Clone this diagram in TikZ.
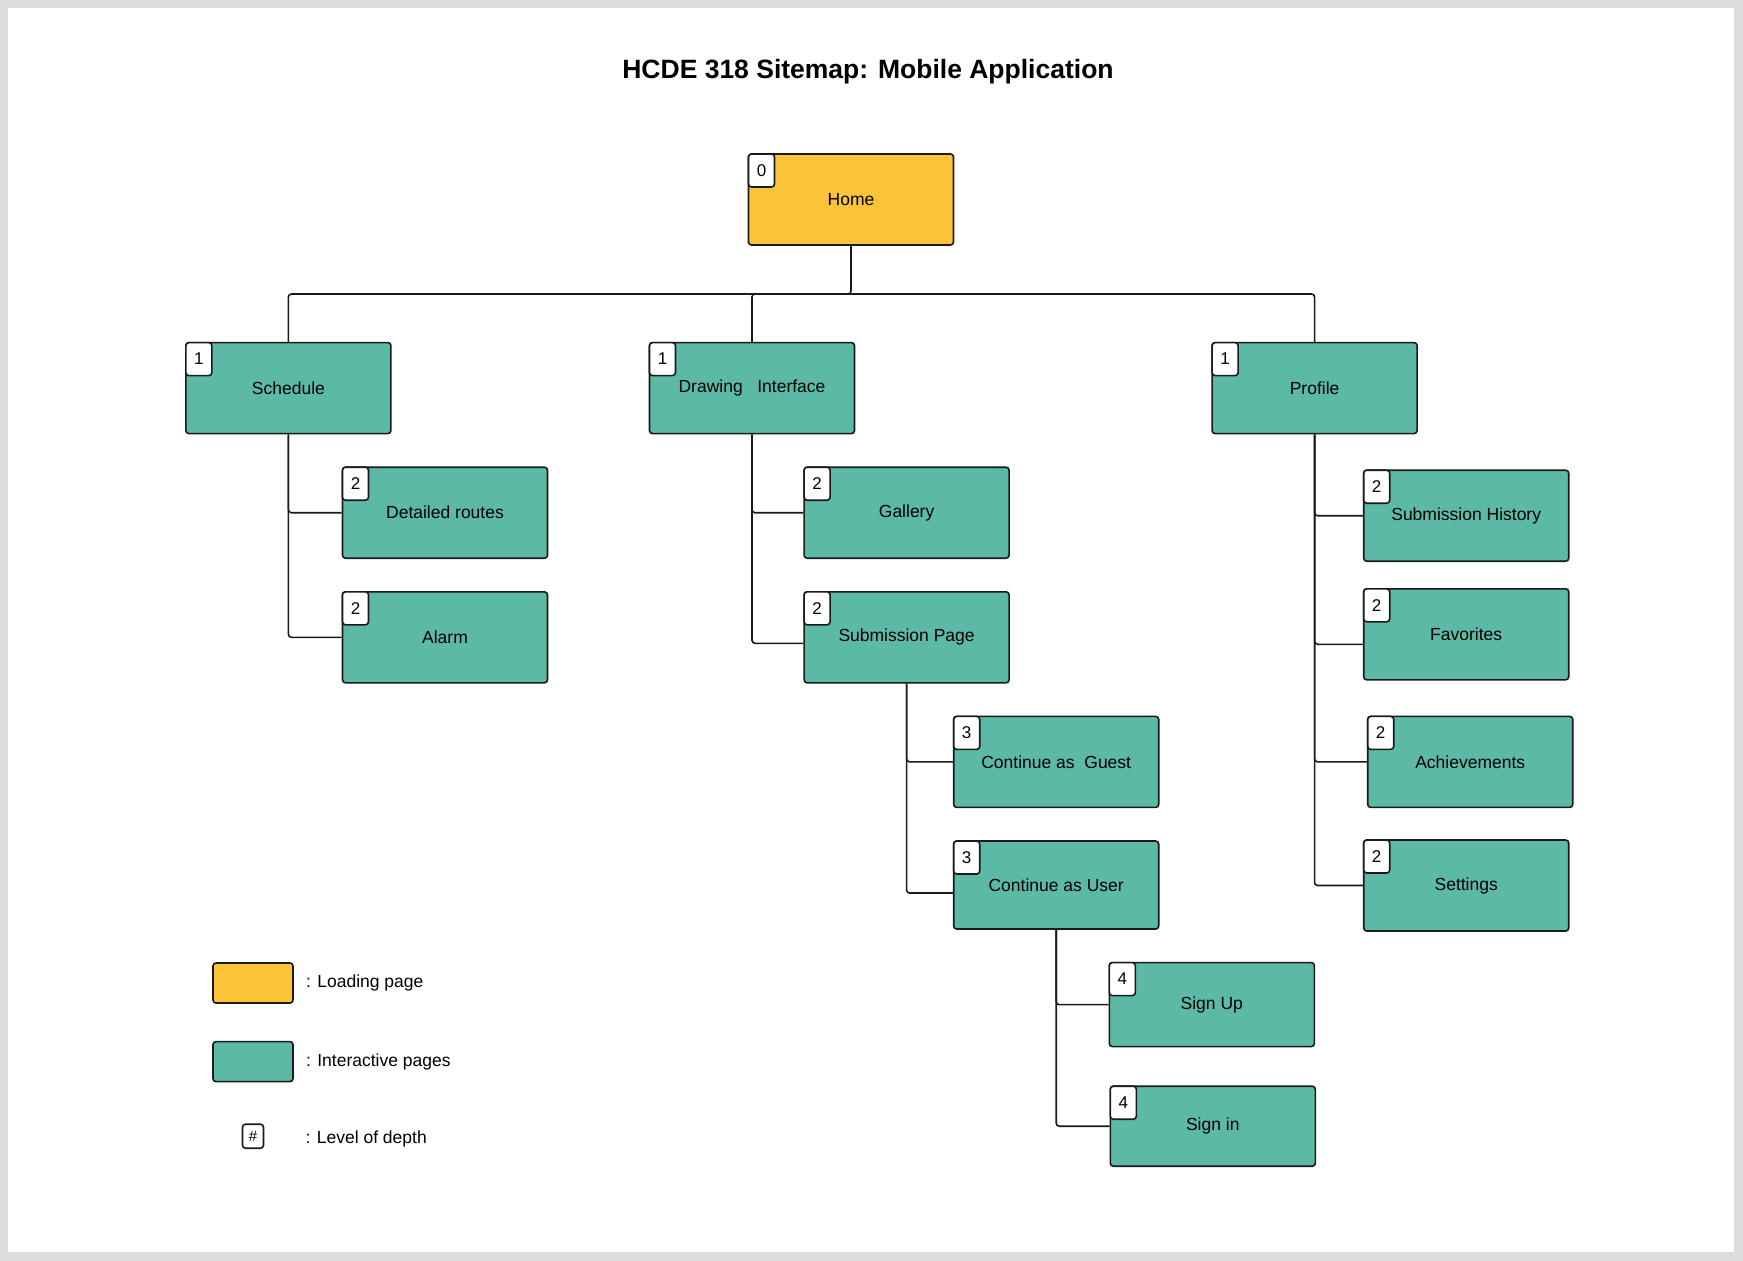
\documentclass[tikz,border=0pt]{standalone}
\usepackage{fontspec}
\setmainfont{Liberation Sans}
\usepackage{xcolor}
\usepackage{tikz}
\usetikzlibrary{positioning}

\definecolor{loadyellow}{HTML}{FBC337}
\definecolor{pageteal}{HTML}{5BB9A6}
\definecolor{framegray}{HTML}{DCDCDC}
\definecolor{inkline}{HTML}{1A1A1A}

\begin{document}
\begin{tikzpicture}[x=1pt, y=-1pt]
\tikzstyle{page} = [rectangle, draw=inkline, line width=1.6pt, rounded corners=3pt, fill=pageteal, minimum width=205pt, minimum height=91pt, text centered, font=\fontsize{17.5}{21}\selectfont]
\tikzstyle{loadpage} = [page, fill=loadyellow]
\tikzstyle{badge} = [rectangle, draw=inkline, line width=1.6pt, rounded corners=3pt, fill=white, minimum width=26pt, minimum height=33pt, inner sep=0pt, anchor=north west, font=\fontsize{17}{20}\selectfont]
\tikzstyle{swatch} = [rectangle, draw=inkline, line width=1.6pt, rounded corners=3pt, minimum width=80pt, minimum height=40pt]
\tikzstyle{legendtext} = [inner sep=0pt, font=\fontsize{17.5}{21}\selectfont]
\tikzstyle{link} = [draw=inkline, line width=1.6pt, rounded corners=3pt]

% frame
\fill [framegray] (0,0) rectangle (1743,1261);
\fill [white] (8,8) rectangle (1734,1252);
\useasboundingbox (0,0) rectangle (1743,1261);

\node (title) at (868,72) {\fontsize{26.5}{30}\selectfont\bfseries HCDE 318 Sitemap: Mobile Application};

\node (home) [loadpage] at (851,199.5) {Home};

% level 1
\node (sched) [page, below left=96pt and 356pt of home] {Schedule};
\node (drawui) [page, below=96pt of home, xshift=-99pt] {Drawing\ \ \ Interface};
\node (prof) [page, below right=96pt and 257pt of home] {Profile};

% schedule branch
\node (detail) [page, below right=32pt and -50pt of sched] {Detailed routes};
\node (alarm) [page, below=32pt of detail] {Alarm};

% drawing branch
\node (gallery) [page, below right=32pt and -52pt of drawui] {Gallery};
\node (subpage) [page, below=32pt of gallery] {Submission Page};
\node (guest) [page, below right=32pt and -57pt of subpage] {Continue as\ \ Guest};
\node (user) [page, minimum height=88pt, below=32pt of guest] {Continue as User};
\node (signup) [page, minimum height=84pt, below right=32pt and -51pt of user] {Sign Up};
\node (signin) [page, minimum height=80pt, below=38pt of signup, xshift=1pt] {Sign in};

% profile branch
\node (subhist) [page, below right=35pt and -55pt of prof] {Submission History};
\node (fav) [page, below=26pt of subhist] {Favorites};
\node (achieve) [page, below=35pt of fav, xshift=4pt] {Achievements};
\node (settings) [page, below=31pt of achieve, xshift=-4pt] {Settings};

% connectors
\coordinate (bus) at (851,294);
\draw [link] (home.south) -- (bus) -| (sched.north);
\draw [link] (bus) -| (drawui.north);
\draw [link] (bus) -| (prof.north);

\draw [link] (sched.south) |- (detail.west);
\draw [link] (sched.south) |- (alarm.west);

\draw [link] (drawui.south) |- (gallery.west);
\draw [link] (drawui.south) |- ([yshift=-6pt]subpage.west);
\draw [link] (subpage.south) |- (guest.west);
\draw [link] (subpage.south) |- ([yshift=-8pt]user.west);
\draw [link] (user.south) |- (signup.west);
\draw [link] (user.south) |- (signin.west);

\draw [link] (prof.south) |- (subhist.west);
\draw [link] (prof.south) |- ([yshift=-10pt]fav.west);
\draw [link] (prof.south) |- (achieve.west);
\draw [link] (prof.south) |- (settings.west);

% depth badges
\node (home-d) [badge] at (home.north west) {0};
\node (sched-d) [badge] at (sched.north west) {1};
\node (drawui-d) [badge] at (drawui.north west) {1};
\node (prof-d) [badge] at (prof.north west) {1};
\node (detail-d) [badge] at (detail.north west) {2};
\node (alarm-d) [badge] at (alarm.north west) {2};
\node (gallery-d) [badge] at (gallery.north west) {2};
\node (subpage-d) [badge] at (subpage.north west) {2};
\node (subhist-d) [badge] at (subhist.north west) {2};
\node (fav-d) [badge] at (fav.north west) {2};
\node (achieve-d) [badge] at (achieve.north west) {2};
\node (settings-d) [badge] at (settings.north west) {2};
\node (guest-d) [badge] at (guest.north west) {3};
\node (user-d) [badge] at (user.north west) {3};
\node (signup-d) [badge] at (signup.north west) {4};
\node (signin-d) [badge] at (signin.north west) {4};

% legend
\node (lgload) [swatch, fill=loadyellow] at (253,983) {};
\node (lgpage) [swatch, fill=pageteal, below=37pt of lgload] {};
\node (lgdepth) [badge, minimum width=21pt, minimum height=24pt, font=\fontsize{15}{17}\selectfont, below=41pt of lgpage] {\#};
\node (lgloadtxt) [legendtext, right=12pt of lgload] {: Loading page};
\node (lgpagetxt) [legendtext, right=12pt of lgpage] {: Interactive pages};
\node (lgdepthtxt) [legendtext, right=41pt of lgdepth, yshift=-3pt] {: Level of depth};

\end{tikzpicture}
\end{document}
